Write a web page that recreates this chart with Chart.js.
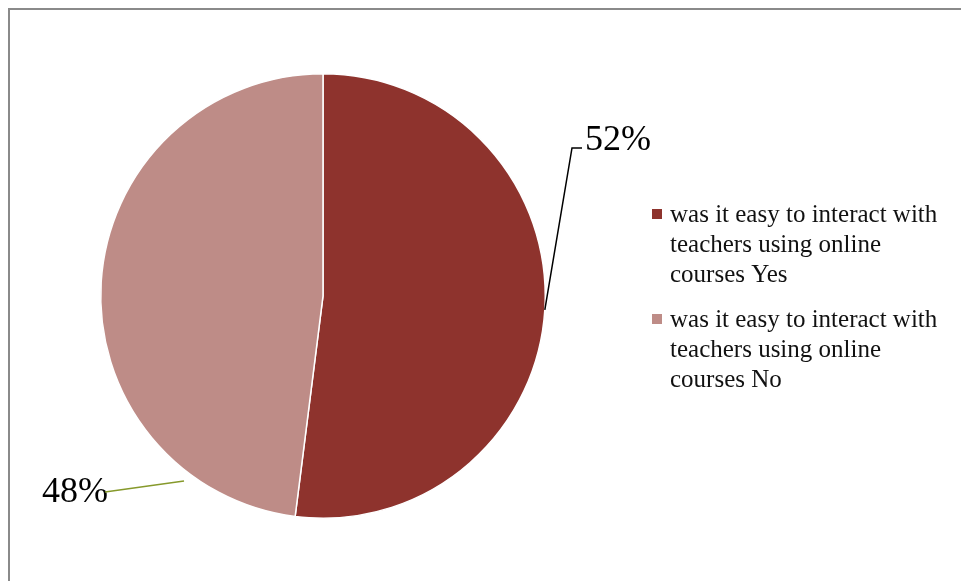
<!DOCTYPE html>
<html>
<head>
<meta charset="utf-8">
<script src="https://cdn.jsdelivr.net/npm/chart.js@4/dist/chart.umd.min.js"></script>
<style>
  html, body { margin: 0; padding: 0; background: #fff; overflow: hidden; }
  #wrap { position: relative; width: 961px; height: 581px; }
  #frame { position: absolute; left: 8px; top: 8px; width: 1000px; height: 1000px;
           border-left: 2px solid #8a8a8a; border-top: 2px solid #8a8a8a; }
  canvas { position: absolute; left: 0; top: 0; }
</style>
</head>
<body>
<div id="wrap">
  <div id="frame"></div>
  <canvas id="pie" width="961" height="581"></canvas>
</div>
<script>
// data
const categories = [
  'was it easy to interact with teachers using online courses Yes',
  'was it easy to interact with teachers using online courses No'
];
const values = [52, 48];
const sliceColors = ['#8e332d', '#be8c87'];
const leaderColors = ['#000000', '#86992b'];

const FONT = '"Liberation Serif", "Times New Roman", serif';

function wrapText(ctx, text, maxWidth) {
  const words = text.split(' ');
  const lines = [];
  let line = '';
  words.forEach(w => {
    const test = line ? line + ' ' + w : w;
    if (ctx.measureText(test).width > maxWidth && line) {
      lines.push(line);
      line = w;
    } else {
      line = test;
    }
  });
  if (line) lines.push(line);
  return lines;
}

const labelsPlugin = {
  id: 'pieLabels',
  afterDraw(chart) {
    const ctx = chart.ctx;
    const meta = chart.getDatasetMeta(0);
    const total = values.reduce((a, b) => a + b, 0);
    const pcts = values.map(v => Math.round(v / total * 100) + '%');

    ctx.save();
    // 52% label with elbow leader
    const a0 = meta.data[0];
    const mid0 = (a0.startAngle + a0.endAngle) / 2;
    const cx = a0.x, cy = a0.y, r = a0.outerRadius;
    ctx.lineWidth = 1.5;
    ctx.strokeStyle = leaderColors[0];
    ctx.beginPath();
    ctx.moveTo(cx + r * Math.cos(mid0), cy + r * Math.sin(mid0));
    ctx.lineTo(cx + 249, cy - 148);
    ctx.lineTo(cx + 259, cy - 148);
    ctx.stroke();
    ctx.fillStyle = '#000';
    ctx.font = '36px ' + FONT;
    ctx.textAlign = 'left';
    ctx.textBaseline = 'alphabetic';
    ctx.fillText(pcts[0], cx + 262, cy - 146);

    // 48% label
    ctx.fillText(pcts[1], cx - 281, cy + 206);
    ctx.strokeStyle = leaderColors[1];
    ctx.lineWidth = 1.5;
    ctx.beginPath();
    ctx.moveTo(cx - 139, cy + 185);
    ctx.lineTo(cx - 218, cy + 196);
    ctx.stroke();

    // legend
    ctx.font = '25px ' + FONT;
    let y = 222;
    categories.forEach((cat, i) => {
      ctx.fillStyle = sliceColors[i];
      ctx.fillRect(652, y - 13, 10, 10);
      ctx.fillStyle = '#111';
      const lines = wrapText(ctx, cat, 284);
      lines.forEach((ln, j) => ctx.fillText(ln, 670, y + j * 30));
      y += lines.length * 30 + 15;
    });
    ctx.restore();
  }
};

new Chart(document.getElementById('pie'), {
  type: 'pie',
  data: {
    labels: categories,
    datasets: [{
      data: values,
      backgroundColor: sliceColors,
      borderColor: '#ffffff',
      borderWidth: 1.5
    }]
  },
  options: {
    responsive: false,
    animation: false,
    layout: { padding: { left: 100, right: 415, top: 73, bottom: 62 } },
    plugins: {
      legend: { display: false },
      tooltip: { enabled: false }
    }
  },
  plugins: [labelsPlugin]
});
</script>
</body>
</html>
